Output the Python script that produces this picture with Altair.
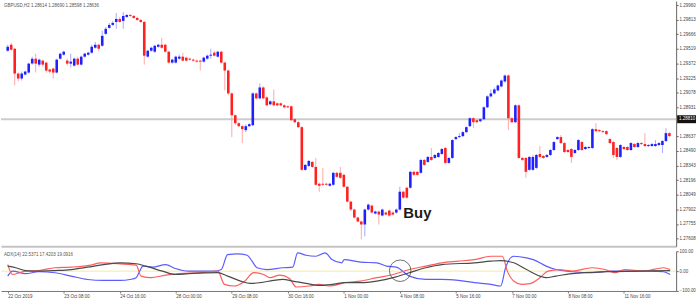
import altair as alt
import pandas as pd

# ---------------- price data (one value per candle) ----------------
OPEN = [1.2950,1.2956,1.2952,1.2927,1.2922,1.2926,1.2928,1.2937,1.2942,1.2936,
1.2940,1.2938,1.2931,1.2932,1.2928,1.2942,1.2946,1.2940,1.2937,1.2935,
1.2942,1.2936,1.2944,1.2946,1.2948,1.2953,1.2956,1.2955,1.2967,1.2973,
1.2976,1.2979,1.2982,1.2980,1.2984,1.2986,1.2985,1.2983,1.2981,1.2979,
1.2944,1.2950,1.2949,1.2954,1.2956,1.2956,1.2949,1.2938,1.2938,1.2942,
1.2944,1.2943,1.2942,1.2941,1.2940,1.2940,1.2939,1.2942,1.2945,1.2948,
1.2944,1.2949,1.2938,1.2930,1.2907,1.2885,1.2877,1.2874,1.2870,1.2874,
1.2875,1.2907,1.2902,1.2913,1.2903,1.2896,1.2899,1.2897,1.2897,1.2895,
1.2894,1.2894,1.2881,1.2878,1.2873,1.2830,1.2834,1.2838,1.2833,1.2816,
1.2816,1.2816,1.2814,1.2815,1.2827,1.2827,1.2825,1.2813,1.2798,1.2790,
1.2782,1.2778,1.2775,1.2790,1.2794,1.2786,1.2788,1.2784,1.2787,1.2789,
1.2787,1.2787,1.2790,1.2808,1.2812,1.2812,1.2828,1.2828,1.2827,1.2840,
1.2838,1.2843,1.2842,1.2843,1.2846,1.2852,1.2837,1.2842,1.2861,1.2863,
1.2864,1.2868,1.2874,1.2882,1.2880,1.2879,1.2881,1.2893,1.2904,1.2907,
1.2910,1.2914,1.2919,1.2925,1.2882,1.2878,1.2895,1.2842,1.2842,1.2830,
1.2830,1.2832,1.2846,1.2844,1.2843,1.2845,1.2850,1.2861,1.2863,1.2857,
1.2850,1.2851,1.2847,1.2850,1.2858,1.2851,1.2852,1.2852,1.2871,1.2870,
1.2869,1.2869,1.2861,1.2858,1.2852,1.2843,1.2853,1.2853,1.2850,1.2856,
1.2853,1.2857,1.2856,1.2854,1.2854,1.2854,1.2855,1.2855,1.2859,1.2867]

HIGH = [1.2956,1.2958,1.2953,1.2928,1.2929,1.2930,1.2938,1.2944,1.2947,1.2942,
1.2941,1.2939,1.2932,1.2933,1.2942,1.2948,1.2950,1.2942,1.2947,1.2943,
1.2944,1.2945,1.2948,1.2949,1.2956,1.2959,1.2957,1.2970,1.2974,1.2978,
1.2980,1.2988,1.2984,1.2989,1.2987,1.2987,1.2986,1.2984,1.2982,1.2980,
1.2951,1.2954,1.2956,1.2957,1.2963,1.2957,1.2950,1.2942,1.2945,1.2946,
1.2948,1.2944,1.2943,1.2942,1.2941,1.2941,1.2944,1.2946,1.2952,1.2950,
1.2950,1.2950,1.2939,1.2931,1.2908,1.2886,1.2878,1.2875,1.2876,1.2877,
1.2908,1.2908,1.2917,1.2914,1.2904,1.2900,1.2911,1.2898,1.2898,1.2896,
1.2895,1.2895,1.2882,1.2879,1.2874,1.2836,1.2840,1.2839,1.2842,1.2817,
1.2832,1.2817,1.2817,1.2828,1.2828,1.2833,1.2826,1.2814,1.2799,1.2791,
1.2783,1.2779,1.2791,1.2796,1.2795,1.2789,1.2789,1.2791,1.2788,1.2790,
1.2788,1.2791,1.2813,1.2809,1.2813,1.2829,1.2829,1.2829,1.2841,1.2841,
1.2844,1.2852,1.2846,1.2848,1.2852,1.2853,1.2843,1.2861,1.2864,1.2867,
1.2869,1.2874,1.2883,1.2883,1.2881,1.2882,1.2894,1.2905,1.2911,1.2913,
1.2916,1.2921,1.2926,1.2926,1.2883,1.2896,1.2896,1.2843,1.2843,1.2844,
1.2845,1.2846,1.2854,1.2845,1.2846,1.2851,1.2859,1.2864,1.2865,1.2858,
1.2851,1.2852,1.2851,1.2861,1.2859,1.2854,1.2854,1.2872,1.2877,1.2871,
1.2870,1.2870,1.2862,1.2859,1.2853,1.2856,1.2854,1.2854,1.2858,1.2857,
1.2858,1.2858,1.2867,1.2856,1.2857,1.2860,1.2858,1.2860,1.2872,1.2868]

LOW = [1.2949,1.2950,1.2915,1.2919,1.2920,1.2925,1.2927,1.2936,1.2928,1.2934,
1.2934,1.2928,1.2927,1.2922,1.2927,1.2941,1.2945,1.2935,1.2933,1.2934,
1.2935,1.2935,1.2943,1.2945,1.2947,1.2952,1.2950,1.2954,1.2966,1.2972,
1.2975,1.2972,1.2978,1.2972,1.2983,1.2984,1.2982,1.2980,1.2978,1.2936,
1.2943,1.2949,1.2948,1.2953,1.2952,1.2948,1.2937,1.2937,1.2937,1.2941,
1.2939,1.2939,1.2940,1.2939,1.2938,1.2930,1.2938,1.2941,1.2942,1.2944,
1.2943,1.2937,1.2910,1.2905,1.2863,1.2875,1.2873,1.2857,1.2868,1.2873,
1.2874,1.2901,1.2901,1.2901,1.2894,1.2895,1.2894,1.2894,1.2894,1.2892,
1.2892,1.2879,1.2877,1.2872,1.2829,1.2829,1.2833,1.2832,1.2814,1.2808,
1.2814,1.2814,1.2813,1.2814,1.2822,1.2821,1.2812,1.2797,1.2789,1.2781,
1.2777,1.2760,1.2763,1.2789,1.2786,1.2785,1.2775,1.2783,1.2784,1.2783,
1.2784,1.2786,1.2789,1.2801,1.2801,1.2811,1.2824,1.2824,1.2826,1.2834,
1.2837,1.2839,1.2841,1.2842,1.2845,1.2836,1.2836,1.2841,1.2860,1.2862,
1.2863,1.2867,1.2873,1.2872,1.2877,1.2878,1.2880,1.2892,1.2903,1.2906,
1.2909,1.2913,1.2918,1.2870,1.2877,1.2877,1.2841,1.2839,1.2822,1.2829,
1.2829,1.2831,1.2842,1.2841,1.2842,1.2844,1.2849,1.2860,1.2856,1.2847,
1.2847,1.2837,1.2846,1.2849,1.2849,1.2850,1.2851,1.2851,1.2868,1.2868,
1.2867,1.2865,1.2856,1.2842,1.2840,1.2842,1.2850,1.2849,1.2849,1.2852,
1.2852,1.2855,1.2853,1.2853,1.2853,1.2853,1.2854,1.2847,1.2858,1.2863]

CLOSE = [1.2954,1.2951,1.2927,1.2922,1.2927,1.2929,1.2937,1.2942,1.2937,1.2941,
1.2936,1.2930,1.2929,1.2928,1.2941,1.2947,1.2949,1.2937,1.2939,1.2942,
1.2936,1.2944,1.2947,1.2948,1.2954,1.2956,1.2952,1.2965,1.2972,1.2976,
1.2978,1.2982,1.2979,1.2985,1.2986,1.2985,1.2983,1.2981,1.2979,1.2945,
1.2950,1.2953,1.2955,1.2956,1.2953,1.2949,1.2938,1.2941,1.2944,1.2944,
1.2940,1.2940,1.2941,1.2940,1.2939,1.2939,1.2943,1.2945,1.2946,1.2945,
1.2949,1.2938,1.2930,1.2907,1.2885,1.2877,1.2874,1.2871,1.2874,1.2876,
1.2907,1.2902,1.2913,1.2902,1.2895,1.2899,1.2895,1.2895,1.2895,1.2893,
1.2893,1.2880,1.2878,1.2873,1.2830,1.2835,1.2839,1.2833,1.2815,1.2814,
1.2815,1.2815,1.2816,1.2827,1.2823,1.2822,1.2813,1.2798,1.2790,1.2782,
1.2778,1.2775,1.2790,1.2795,1.2787,1.2788,1.2785,1.2790,1.2785,1.2784,
1.2785,1.2790,1.2808,1.2802,1.2802,1.2828,1.2825,1.2825,1.2840,1.2835,
1.2843,1.2840,1.2845,1.2847,1.2851,1.2837,1.2842,1.2860,1.2863,1.2864,
1.2868,1.2873,1.2882,1.2878,1.2878,1.2881,1.2893,1.2904,1.2907,1.2911,
1.2915,1.2920,1.2925,1.2882,1.2878,1.2895,1.2842,1.2840,1.2828,1.2843,
1.2843,1.2845,1.2843,1.2842,1.2845,1.2850,1.2858,1.2863,1.2857,1.2848,
1.2848,1.2843,1.2850,1.2860,1.2850,1.2853,1.2853,1.2871,1.2869,1.2869,
1.2868,1.2866,1.2857,1.2845,1.2843,1.2855,1.2851,1.2850,1.2857,1.2853,
1.2857,1.2856,1.2854,1.2855,1.2856,1.2856,1.2857,1.2859,1.2867,1.2864]

PRICE_TICKS = [1.29960,1.29813,1.29666,1.29519,1.29372,1.29225,1.29078,1.28931,
               1.28637,1.28490,1.28343,1.28196,1.28049,1.27902,1.27755,1.27608]
LEVEL_LINE = 1.2881

# ---------------- indicator data (sampled at bar positions) ----------------
BLUE_X = [0,1.4,5.1,8.8,13.5,18.1,22.8,27.4,32.1,34.9,36.7,37.7,38.6,41.4,45.1,47.9,51.6,55.4,59.1,61.0,
          62.8,65.6,68.4,69.8,71.2,74.0,78.6,81.4,82.8,85.2,88.0,90.7,92.6,95.4,96.1,100.8,105.4,108.2,111.0,114.7,
          119.4,124.0,128.7,133.3,138.0,140.8,142.2,144.5,148.2,150.1,153.8,156.6,161.3,166.9,172.4,178.0,183.6,187.3,189.2]
BLUE_V = [-25,0,-13,-3,-8,-25,-42,-47,-47,-42,-33,0,25,20,33,13,0,0,0,8,
          83,87,80,50,17,8,17,20,92,80,75,92,58,42,58,45,42,25,20,-25,
          -42,-42,-47,-58,-67,-75,17,75,67,58,25,8,-3,-8,0,0,0,-3,-17]
RED_X = [0,1.4,5.1,8.8,13.5,18.1,23.7,26.5,32.1,36.7,38.1,40.9,45.1,48.8,55.4,60.0,61.9,64.7,67.5,70.3,
         73.1,74.9,77.7,80.5,82.4,86.1,88.9,91.7,95.4,96.1,100.8,105.4,110.1,114.7,119.4,124.0,128.7,133.3,138.0,141.3,
         142.7,144.5,146.8,149.2,152.0,154.3,157.5,161.3,166.9,170.6,173.4,176.2,181.8,187.3,189.2]
RED_V = [33,-17,0,3,17,20,30,42,37,30,-25,-33,-20,-13,-8,0,-67,-75,-53,-8,
         -17,-33,-20,-37,-80,-75,-67,-75,-62,-58,-50,-33,-17,8,25,42,50,58,75,75,
         0,-50,-67,-63,-33,0,8,0,17,8,-8,8,0,17,8]
MAIN_X = [0,2.3,5.1,8.8,13.5,18.1,22.8,27.4,32.1,36.7,39.5,44.2,47.9,51.6,60.0,62.8,66.5,69.3,72.1,75.9,
          78.6,81.4,85.2,88.9,92.6,96.3,100.8,105.4,110.1,114.7,119.4,124.0,133.3,138.0,140.8,144.5,148.2,152.0,153.8,156.6,
          161.3,170.6,179.9,189.2]
MAIN_V = [25,17,3,0,3,8,20,33,42,37,25,0,-17,-13,-8,-25,-50,-62,-58,-47,
          -42,-50,-62,-72,-67,-58,-58,-50,-33,-8,17,33,42,50,53,42,8,-25,-33,-25,
          -13,-3,0,3]

DATE_LABELS = ["22 Oct 2019","22 Oct 16:00","23 Oct 08:00","24 Oct 00:00","24 Oct 16:00","25 Oct 08:00",
               "28 Oct 00:00","28 Oct 16:00","29 Oct 08:00","30 Oct 00:00","30 Oct 16:00","31 Oct 08:00",
               "1 Nov 00:00","1 Nov 16:00","4 Nov 08:00","5 Nov 00:00","5 Nov 16:00","6 Nov 08:00",
               "7 Nov 00:00","7 Nov 16:00","8 Nov 08:00","11 Nov 00:00","11 Nov 16:00","12 Nov 08:00"]

HEADER = "GBPUSD,H2  1.28614 1.28690 1.28598 1.28636"
IND_HEADER = "ADX(14) 22.5371 17.4203 19.0916"

# ---------------- build ----------------
N = len(OPEN)
df = pd.DataFrame({"i": list(range(N)), "o": OPEN, "h": HIGH, "l": LOW, "c": CLOSE})

W = 680
FONT = "Liberation Sans"
UP = "datum.c >= datum.o"
xscale = alt.Scale(domain=[-0.5, N - 0.5], nice=False, zero=False)
yscale = alt.Scale(domain=[1.2753, 1.3000], nice=False, zero=False)
price_axis = alt.Axis(orient="right", values=PRICE_TICKS, format=".5f", labelFontSize=4.5,
                      labelFont=FONT, tickSize=2, labelPadding=1, domainColor="#666",
                      tickColor="#666", labelColor="#444", grid=False, title=None,
                      labelOverlap=False, labelBound=False)

x_main = alt.X("i:Q", scale=xscale,
               axis=alt.Axis(labels=False, ticks=False, grid=False, title=None,
                             domainColor="#c4c4c4", domainWidth=2))

level_df = pd.DataFrame({"p": [LEVEL_LINE], "t": [f"{LEVEL_LINE:.5f}"],
                         "p1": [LEVEL_LINE + 0.0004], "p2": [LEVEL_LINE - 0.0004]})
level = alt.Chart(level_df).mark_rule(color="#cccccc", strokeWidth=2).encode(
    y=alt.Y("p:Q", scale=yscale, axis=price_axis))

base = alt.Chart(df)
wicks = base.mark_rule(strokeWidth=1).encode(
    x=x_main,
    y=alt.Y("l:Q", scale=yscale, axis=price_axis),
    y2="h:Q",
    color=alt.condition(UP, alt.value("#a8a8ff"), alt.value("#ffa8a8")),
)
bodies = base.mark_bar(size=2.6).encode(
    x=x_main, y=alt.Y("o:Q", scale=yscale, axis=price_axis), y2="c:Q",
    color=alt.condition(UP, alt.value("#2020ff"), alt.value("#ff2020")),
)

level_bg = alt.Chart(level_df).mark_rect(color="#111").encode(
    x=alt.value(681), x2=alt.value(700), y=alt.Y("p1:Q", scale=yscale, axis=price_axis), y2="p2:Q")
level_txt = alt.Chart(level_df).mark_text(
    align="left", baseline="middle", fontSize=4.5, font=FONT, color="white").encode(
    x=alt.value(683), y=alt.Y("p:Q", scale=yscale, axis=price_axis), text="t:N")

buy_df = pd.DataFrame({"i": [113.0], "p": [1.2782], "t": ["Buy"]})
buy = alt.Chart(buy_df).mark_text(align="left", baseline="alphabetic", fontSize=15, fontWeight="bold",
                                  font=FONT, color="#1a1a1a").encode(
    x=alt.X("i:Q", scale=xscale), y=alt.Y("p:Q", scale=yscale, axis=price_axis), text="t:N")

hdr = alt.Chart(pd.DataFrame({"t": [HEADER]})).mark_text(
    align="left", baseline="top", fontSize=4.5, font=FONT, color="#555").encode(
    x=alt.value(3), y=alt.value(2), text="t:N")

main = alt.layer(level, wicks, bodies, buy, hdr, level_bg, level_txt).properties(width=W, height=247)

# ---------------- indicator panel ----------------
ind = pd.concat([
    pd.DataFrame({"i": BLUE_X, "v": BLUE_V, "s": "blue"}),
    pd.DataFrame({"i": RED_X, "v": RED_V, "s": "red"}),
    pd.DataFrame({"i": MAIN_X, "v": MAIN_V, "s": "main"}),
])
vscale = alt.Scale(domain=[-100, 100], nice=False, zero=False)
ind_axis = alt.Axis(orient="right", values=[-100, 0, 100], format=".2f", labelFontSize=4.5,
                    labelFont=FONT, tickSize=2, labelPadding=1, domainColor="#666",
                    tickColor="#666", labelColor="#444", grid=False, title=None,
                    labelOverlap=False)
label_expr = "[" + ",".join("'" + d + "'" for d in DATE_LABELS) + "][round(datum.value/8)]"
x_low = alt.X("i:Q", scale=xscale,
              axis=alt.Axis(values=[8 * k for k in range(len(DATE_LABELS))], labelExpr=label_expr,
                            labelFontSize=4.5, labelFont=FONT, labelAlign="left", labelColor="#444",
                            tickSize=2, labelPadding=1, domainColor="#777", tickColor="#777",
                            grid=False, title=None, labelOverlap=False))
zero = alt.Chart(pd.DataFrame({"v": [0]})).mark_rule(color="#f3e9a0", strokeWidth=1).encode(
    y=alt.Y("v:Q", scale=vscale, axis=ind_axis))
lines = alt.Chart(ind).mark_line(strokeWidth=1.2, interpolate="monotone").encode(
    x=x_low,
    y=alt.Y("v:Q", scale=vscale, axis=ind_axis),
    color=alt.Color("s:N", scale=alt.Scale(domain=["blue", "red", "main"],
                                           range=["#5c5cff", "#ff5c5c", "#4a4a4a"]), legend=None),
    detail="s:N",
)
circle = alt.Chart(pd.DataFrame({"i": [112.1], "v": [2]})).mark_point(
    shape="circle", size=470, filled=False, color="#333", strokeWidth=1).encode(
    x=alt.X("i:Q", scale=xscale), y=alt.Y("v:Q", scale=vscale, axis=ind_axis))
ihdr = alt.Chart(pd.DataFrame({"t": [IND_HEADER]})).mark_text(
    align="left", baseline="top", fontSize=4.5, font=FONT, color="#555").encode(
    x=alt.value(3), y=alt.value(1), text="t:N")

lower = alt.layer(zero, lines, circle, ihdr).properties(width=W, height=40)

chart = alt.vconcat(main, lower, spacing=2).properties(
    padding=0, background="white"
).configure_view(stroke=None).resolve_scale(x="shared")

chart.save("out.html", embed_options={"renderer": "svg", "actions": False})
